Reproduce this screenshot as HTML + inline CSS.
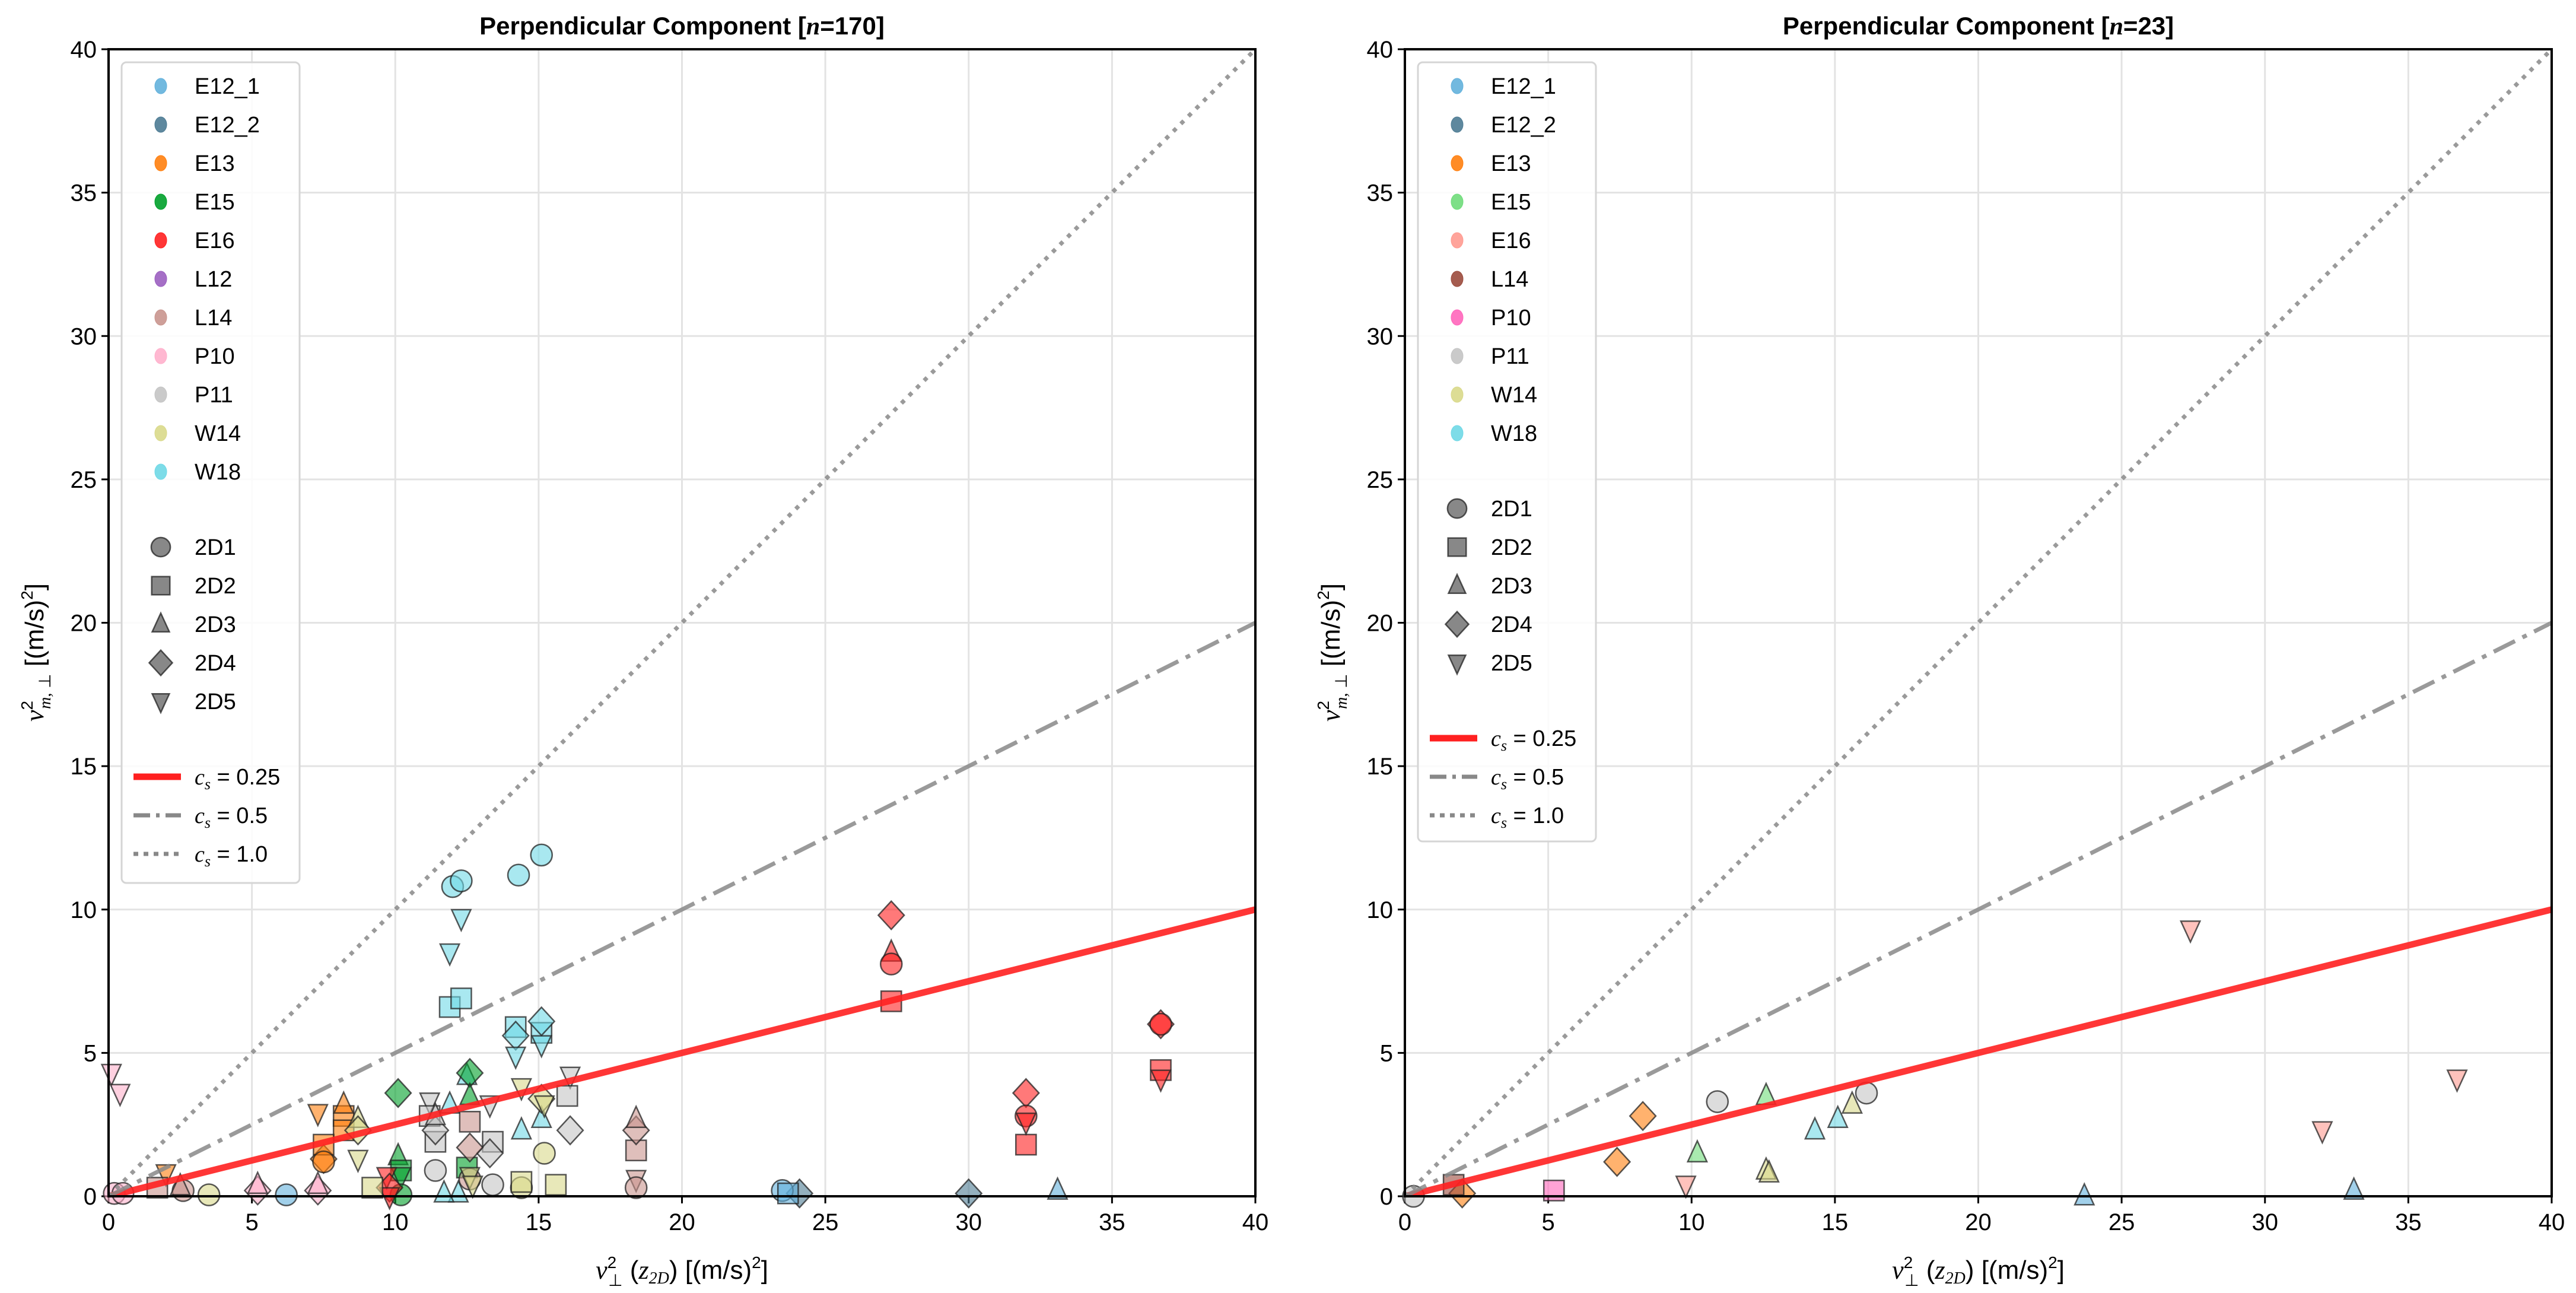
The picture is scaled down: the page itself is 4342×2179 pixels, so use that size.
<!DOCTYPE html>
<html><head><meta charset="utf-8"><style>
html,body{margin:0;padding:0;background:#fff}
svg{display:block;font-family:"Liberation Sans",sans-serif}
</style></head><body>
<svg id="fig" width="4342" height="2179" viewBox="0 0 4342 2179" xmlns="http://www.w3.org/2000/svg">
<rect width="4342" height="2179" fill="#fff"/>
</svg>
<script>
// ---- data ----
const leftX = [12.0,12.3,14.3,15.1,12.3,11.9,11.9,12.3,14.2,15.1,14.2,15.1,15.1,14.2,11.9,12.5,14.4,15.1,12.2,11.7,
 10.1,12.6,12.6,10.1,12.5,10.2,10.2,10.2,
 7.3,8.2,8.2,7.5,7.5,8.2,7.5,2.0,
 27.3,32.0,36.7,27.3,27.3,27.3,32.0,36.7,32.0,36.7,36.7,32.0,9.7,9.8,9.8,
 24.1,30.0,23.5,6.2,23.7,33.1,
 11.2,13.3,16.1,11.2,16.0,11.4,13.4,11.4,13.3,16.1,11.4,13.4,11.4,
 12.6,18.4,12.6,18.4,18.4,18.4,18.4,12.6,2.6,2.5,1.7,
 8.7,8.7,8.7,15.2,3.5,14.4,14.4,15.6,9.2,15.1,15.2,14.4,12.6,12.7,
 0.1,0.4,5.2,7.3,5.2,7.3,0.2,0.5];
const leftY = [10.8,11.0,11.2,11.9,9.7,8.5,6.6,6.9,5.9,5.7,5.6,6.1,5.3,4.9,3.2,4.2,2.3,2.7,0.1,0.1,
 3.6,4.3,3.5,1.4,1.0,0.9,0.7,0.05,
 2.9,2.8,2.3,1.3,1.8,3.2,1.2,0.8,
 9.8,3.6,6.0,8.5,8.1,6.8,1.8,4.4,2.8,6.0,4.1,2.6,0.7,0.3,0.0,
 0.1,0.1,0.2,0.05,0.1,0.2,
 3.3,3.2,4.2,2.8,3.5,1.9,1.9,2.3,1.5,2.3,0.9,0.4,2.8,
 2.6,1.6,1.7,2.3,2.7,0.6,0.3,0.6,0.2,0.35,0.3,
 2.7,2.3,1.3,1.5,0.05,0.3,0.5,0.4,0.3,3.4,3.2,3.8,0.7,0.4,
 4.3,3.6,0.2,0.2,0.4,0.4,0.1,0.1];
const leftM = "ooooddssssDDdduuuuuu"+"DDuussdo"+"dssDsuod"+"DDDuosssoodddDd"+"DDoosu"+"dddssssDDDoou"+"ssDDudooous"+"uDdooosssDdddd"+"ddDDuuoo";
const leftC = "WWWWWWWWWWWWWWWWWWWW"+"GGGGGGGG"+"OOOOOOOO"+"RRRRRRRRRRRRRRR"+"KKBBBB"+"PPPPPPPPPPPPP"+"LLLLLLLLLLL"+"YYYYYYYYYYYYYY"+"QQQQQQQQ";
const rightX = [10.9,16.1,12.6,15.6,12.7,10.2,12.6,14.3,15.1,8.3,7.4,2.0,27.4,36.7,32.0,9.8,5.2,1.7,23.7,33.1,0.3];
const rightY = [3.3,3.6,0.9,3.2,0.8,1.5,3.5,2.3,2.7,2.8,1.2,0.1,9.3,4.1,2.3,0.4,0.2,0.4,0.0,0.2,0.0];
const rightM = "oouuuuuuuDDDddddssuuo";
const rightC = "PPYYYggWWOOOrrrrqlBBP";
const legendLeftNames = ["E12_1","E12_2","E13","E15","E16","L12","L14","P10","P11","W14","W18"];
const legendLeftCols = ["#63b1dc","#4d7b93","#ff7f0e","#00a02a","#ff2020","#9b5fc0","#c9958e","#ffb0cc","#c4c4c4","#d9d98a","#6fd8e6"];
const legendRightNames = ["E12_1","E12_2","E13","E15","E16","L14","P10","P11","W14","W18"];
const legendRightCols = ["#63b1dc","#4d7b93","#ff7f0e","#6fdc7a","#ff9a90","#9b4a3c","#ff66bb","#c4c4c4","#d9d98a","#6fd8e6"];
const ticks = [0,5,10,15,20,25,30,35,40];
const lineSlopes = [0.25,0.5,1.0];
const shapeNames = ["2D1","2D2","2D3","2D4","2D5"];
const colMap = {W:"#6fd8e6",G:"#00a02a",O:"#ff7f0e",R:"#ff2020",K:"#4d7b93",B:"#63b1dc",P:"#c4c4c4",L:"#c9958e",Y:"#d9d98a",Q:"#ffb0cc",
 g:"#6fdc7a",r:"#ff9a90",q:"#ff66bb",l:"#9b4a3c"};
// ---- drawing ----
const NS="http://www.w3.org/2000/svg";
const svg=document.getElementById('fig');
function el(tag,attrs,parent){const e=document.createElementNS(NS,tag);for(const k in attrs)e.setAttribute(k,attrs[k]);(parent||svg).appendChild(e);return e;}
function marker(g,m,cx,cy,r,fill,op){
  let e;
  if(m==='o') e=el('ellipse',{cx:cx,cy:cy,rx:r*0.95,ry:r*0.95},g);
  else if(m==='s') e=el('rect',{x:cx-r*0.9,y:cy-r*0.9,width:r*1.8,height:r*1.8},g);
  else if(m==='u') e=el('polygon',{points:`${cx},${cy-r*1.1} ${cx+r*0.85},${cy+r*0.75} ${cx-r*0.85},${cy+r*0.75}`},g);
  else if(m==='d') e=el('polygon',{points:`${cx},${cy+r*1.1} ${cx+r*0.85},${cy-r*0.75} ${cx-r*0.85},${cy-r*0.75}`},g);
  else e=el('polygon',{points:`${cx},${cy-r*1.25} ${cx+r*1.15},${cy} ${cx},${cy+r*1.25} ${cx-r*1.15},${cy}`},g);
  e.setAttribute('fill',fill);e.setAttribute('fill-opacity',op);e.setAttribute('stroke','#222');e.setAttribute('stroke-opacity','0.75');e.setAttribute('stroke-width','2.5');
  return e;
}
function panel(id,x0,title,xs,ys,ms,cs,names,cols,legH){
  const x1=x0+1933,y0=83,y1=2016;
  const sx=v=>x0+v/40*(x1-x0), sy=v=>y1-v/40*(y1-y0);
  const g=el('g',{});
  
  ticks.forEach(t=>{
    el('line',{x1:sx(t),x2:sx(t),y1:y0,y2:y1,stroke:'#e3e3e3','stroke-width':3},g);
    el('line',{x1:x0,x2:x1,y1:sy(t),y2:sy(t),stroke:'#e3e3e3','stroke-width':3},g);
    el('line',{x1:sx(t),x2:sx(t),y1:y1,y2:y1+12,stroke:'#000','stroke-width':3},g);
    el('line',{x1:x0-12,x2:x0,y1:sy(t),y2:sy(t),stroke:'#000','stroke-width':3},g);
    const tx=el('text',{x:sx(t),y:y1+57,'font-size':40,'text-anchor':'middle'},g);tx.textContent=t;
    
    const ty=el('text',{x:x0-20,y:sy(t)+14,'font-size':40,'text-anchor':'end'},g);ty.textContent=t;
    
  });
  const mg=el('g',{},g);
  xs.forEach((v,i)=>{const mk=marker(mg,ms[i],sx(v),sy(ys[i]),19,colMap[cs[i]],0.6);
    });
  const styles=[{c:'#ff2020',w:11,d:'',o:0.9},{c:'#888',w:7,d:'40,14,8,14',o:0.85},{c:'#888',w:7,d:'7,11',o:0.85}];
  const cpp=el('clipPath',{id:id+'clip'},g);
  el('rect',{x:x0,y:y0,width:x1-x0,height:y1-y0},cpp);
  lineSlopes.forEach((s,i)=>{const l=el('line',{x1:sx(0),y1:sy(0),x2:sx(40),y2:sy(40*s),stroke:styles[i].c,'stroke-width':styles[i].w,'stroke-opacity':styles[i].o,'clip-path':`url(#${id}clip)`},g);
    if(styles[i].d)l.setAttribute('stroke-dasharray',styles[i].d);
    });
  el('rect',{x:x0,y:y0,width:x1-x0,height:y1-y0,fill:'none',stroke:'#000','stroke-width':4},g);
  const t=el('text',{x:(x0+x1)/2,y:58,'font-size':42,'font-weight':'bold','text-anchor':'middle'},g);
  t.innerHTML=title;
  const xl=el('text',{x:(x0+x1)/2,y:2155,'font-size':44,'text-anchor':'middle'},g);
  xl.innerHTML='<tspan font-family="Liberation Serif" font-style="italic">v</tspan><tspan font-size="28" dy="-18">2</tspan><tspan font-size="28" dx="-14" dy="30">⊥</tspan><tspan dy="-12"> (</tspan><tspan font-family="Liberation Serif" font-style="italic">z</tspan><tspan font-size="28" dy="8" font-family="Liberation Serif" font-style="italic">2D</tspan><tspan dy="-8">) [(m/s)</tspan><tspan font-size="28" dy="-18">2</tspan><tspan dy="18">]</tspan>';
  
  const yl=el('text',{x:0,y:0,'font-size':44,'text-anchor':'middle',transform:`translate(${x0-110},${(y0+y1)/2+50}) rotate(-90)`},g);
  yl.innerHTML='<tspan font-family="Liberation Serif" font-style="italic">v</tspan><tspan font-size="28" dy="-18">2</tspan><tspan font-size="28" dx="-14" dy="30" font-family="Liberation Serif" font-style="italic">m,</tspan><tspan font-size="28"> ⊥</tspan><tspan dy="-12">  [(m/s)</tspan><tspan font-size="28" dy="-18">2</tspan><tspan dy="18">]</tspan>';
  
  // legend
  const lg=el('g',{},g);
  el('rect',{x:x0+22,y:105,width:300,height:legH,rx:8,fill:'#fff','fill-opacity':0.85,stroke:'#d5d5d5','stroke-width':3},lg);
  let y=145;const step=65;
  names.forEach((n,i)=>{el('ellipse',{cx:x0+88,cy:y,rx:10,ry:13,fill:cols[i],'fill-opacity':0.9,stroke:cols[i]},lg);
    const tt=el('text',{x:x0+145,y:y+13,'font-size':38},lg);tt.textContent=n;
    y+=step;});
  y+=62;
  "osuDd".split('').forEach((m,i)=>{marker(lg,m,x0+88,y,17,'#888',1);
    const tt=el('text',{x:x0+145,y:y+13,'font-size':38},lg);tt.textContent=shapeNames[i];
    y+=step;});
  y+=62;
  lineSlopes.forEach((s,i)=>{const l=el('line',{x1:x0+42,x2:x0+122,y1:y,y2:y,stroke:styles[i].c,'stroke-width':styles[i].w},lg);
    if(styles[i].d)l.setAttribute('stroke-dasharray',styles[i].d==='7,11'?'8,9':'28,10,6,10');
    const tt=el('text',{x:x0+145,y:y+13,'font-size':38},lg);
    tt.innerHTML='<tspan font-family="Liberation Serif" font-style="italic">c</tspan><tspan font-size="26" dy="8" font-family="Liberation Serif" font-style="italic">s</tspan><tspan dy="-8"> = '+s.toFixed(s===0.25?2:1)+'</tspan>';
    y+=step;});
}
panel('left',183,'Perpendicular Component [<tspan font-family="Liberation Serif" font-style="italic">n</tspan>=170]',leftX,leftY,leftM,leftC,legendLeftNames,legendLeftCols,1383);
panel('right',2368,'Perpendicular Component [<tspan font-family="Liberation Serif" font-style="italic">n</tspan>=23]',rightX,rightY,rightM,rightC,legendRightNames,legendRightCols,1313);
</script>
</body></html>
